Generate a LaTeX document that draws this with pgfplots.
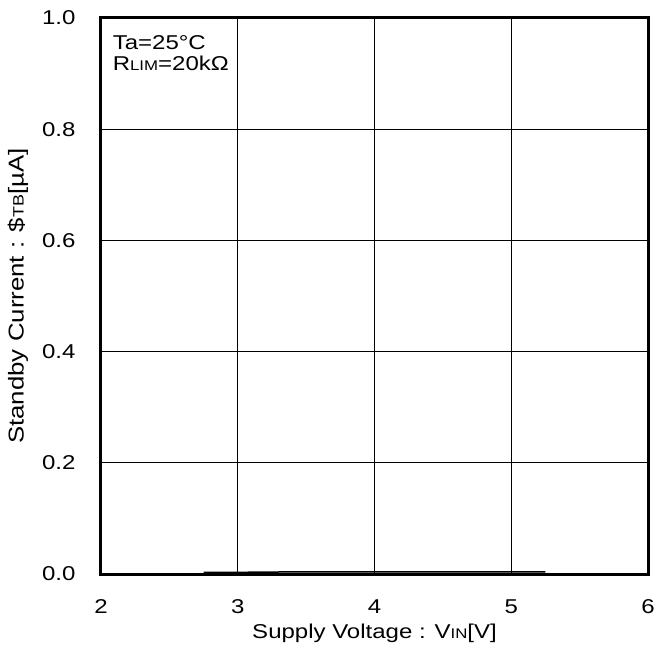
\documentclass[border=0pt]{standalone}
\usepackage{pgfplots}
\pgfplotsset{compat=1.18}
\usepackage{fontspec}
\setmainfont{Liberation Sans}[FakeStretch=1.2]
\begin{document}
\begin{tikzpicture}
\useasboundingbox (-101bp,-78bp) rectangle (554bp,574bp);
\begin{axis}[
  at={(0,0)}, anchor=south west,
  scale only axis,
  width=547bp, height=556bp,
  xmin=2, xmax=6, ymin=0, ymax=1,
  xtick={2,3,4,5,6},
  ytick={0,0.2,0.4,0.6,0.8,1.0},
  yticklabel style={/pgf/number format/fixed, /pgf/number format/fixed zerofill, /pgf/number format/precision=1, xshift=-22bp},
  /pgf/number format/assume math mode=true,
  tick label style={font=\fontsize{20bp}{23bp}\selectfont},
  xticklabel style={yshift=-22bp},
  grid=major,
  major grid style={black, line width=1bp},
  axis line style={black, line width=3bp},
  tick style={draw=none},
  every axis x label/.style={at={(axis description cs:0.5,0)}, anchor=center, yshift=-59bp, font=\fontsize{20bp}{23bp}\selectfont},
  every axis y label/.style={at={(axis description cs:0,0.5)}, xshift=-83bp, rotate=90, anchor=center, font=\fontsize{21.5bp}{24bp}\selectfont},
  xlabel={Supply Voltage : V{\fontsize{14bp}{16bp}\selectfont IN}[V]},
  ylabel={Standby Current : \${\fontsize{15bp}{17bp}\selectfont TB}[µA]},
  clip=false,
]
\addplot[black, line width=1.5bp] coordinates {
  (2.75,0.003) (3.0,0.003) (3.5,0.004) (4.0,0.004) (4.5,0.004) (5.0,0.004) (5.25,0.004)
};
\node[anchor=north west, align=left, inner sep=0pt, font=\fontsize{20bp}{21bp}\selectfont] at (axis cs:2.085,0.968) {Ta=25°C\\R{\fontsize{14bp}{16bp}\selectfont LIM}=20kΩ};
\end{axis}
\end{tikzpicture}
\end{document}
